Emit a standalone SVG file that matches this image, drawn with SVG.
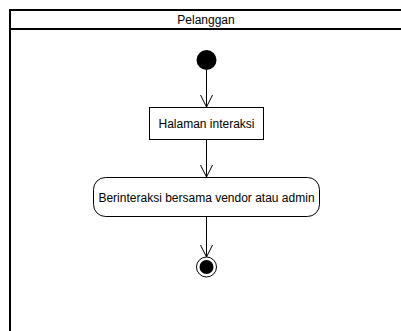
<svg xmlns="http://www.w3.org/2000/svg" width="401" height="331" viewBox="0 0 401 331">
<style>
text{font-family:"Liberation Sans",Arial,sans-serif;font-size:12px;fill:#000;text-anchor:middle;dominant-baseline:central}
.lane{fill:#fff;stroke:#000;stroke-width:2}
.node{fill:#fff;stroke:#000;stroke-width:1}
.edge{fill:none;stroke:#000;stroke-width:1}
</style>
<defs>
<marker id="open" viewBox="0 0 14 14" refX="13" refY="7" markerWidth="14" markerHeight="14" markerUnits="userSpaceOnUse" orient="auto">
<path d="M1,1 L13,7 L1,13" fill="none" stroke="#000" stroke-width="1"/>
</marker>
</defs>
<rect width="401" height="331" fill="#fff"/>
<g id="lane">
<rect class="lane" x="10" y="10" width="400" height="340"/>
<line x1="10" y1="29" x2="410" y2="29" stroke="#000" stroke-width="2"/>
<text x="206" y="19.5">Pelanggan</text>
</g>
<g id="connectors">
<line class="edge" x1="206.5" y1="70" x2="206.5" y2="107" marker-end="url(#open)"/>
<line class="edge" x1="206.5" y1="140" x2="206.5" y2="177" marker-end="url(#open)"/>
<line class="edge" x1="206.5" y1="217" x2="206.5" y2="257" marker-end="url(#open)"/>
</g>
<g id="start">
<circle cx="206.5" cy="60" r="10" fill="#000"/>
</g>
<g id="halaman">
<rect class="node" x="149.5" y="107.5" width="114" height="32"/>
<text x="206.5" y="124">Halaman interaksi</text>
</g>
<g id="berinteraksi">
<rect class="node" x="93.5" y="177.5" width="226" height="39" rx="12" ry="12"/>
<text x="206.5" y="197.5">Berinteraksi bersama vendor atau admin</text>
</g>
<g id="end">
<circle cx="206.5" cy="267" r="10" fill="#fff" stroke="#000" stroke-width="1"/>
<circle cx="206.5" cy="267" r="7" fill="#000"/>
</g>
</svg>
